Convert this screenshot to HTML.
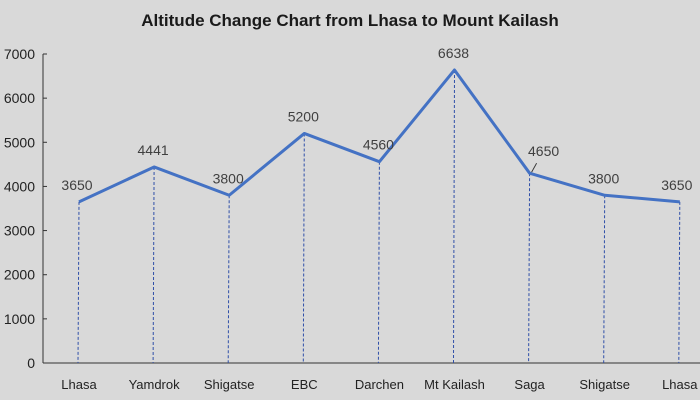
<!DOCTYPE html>
<html><head><meta charset="utf-8"><style>
body{margin:0;background:#d9d9d9;}
svg{display:block;font-family:"Liberation Sans",sans-serif;}
</style></head><body>
<svg width="700" height="400" viewBox="0 0 700 400">
<rect width="700" height="400" fill="#d9d9d9"/>
<text x="350" y="26" text-anchor="middle" font-size="17" font-weight="bold" fill="#1a1a1a">Altitude Change Chart from Lhasa to Mount Kailash</text>
<g id="axes"></g><g id="drops"></g><g id="series"></g><g id="labels"></g>
</svg>
<script>
const categories=["Lhasa","Yamdrok","Shigatse","EBC","Darchen","Mt Kailash","Saga","Shigatse","Lhasa"];
const altitudes=[3650,4441,3800,5200,4560,6638,4300,3800,3650];
const printedLabels=["3650","4441","3800","5200","4560","6638","4650","3800","3650"];
const yTicks=[0,1000,2000,3000,4000,5000,6000,7000];
const NS="http://www.w3.org/2000/svg";
const x0=43,y0=363,yTop=54,yMax=7000;
function xs(i){return 79+i*75.1;}
function ys(v){return y0-(v/yMax)*(y0-yTop);}
function mk(tag,attrs,parent){const e=document.createElementNS(NS,tag);for(const k in attrs)e.setAttribute(k,attrs[k]);document.getElementById(parent).appendChild(e);return e;}
let ax=mk("line",{x1:x0,y1:yTop,x2:x0,y2:y0,stroke:"#333","stroke-width":1},"axes");


let bx=mk("line",{x1:x0,y1:y0,x2:700,y2:y0,stroke:"#333","stroke-width":1},"axes");


yTicks.forEach(t=>{
 let tk=mk("line",{x1:x0,y1:ys(t),x2:x0+4,y2:ys(t),stroke:"#333"},"axes");
 
 
 let tl=mk("text",{x:35,y:ys(t)+5,"text-anchor":"end","font-size":"14",fill:"#222"},"axes");
 tl.textContent=t;
 
 
});
categories.forEach((c,i)=>{
 let t=mk("text",{x:i==8?Math.min(xs(i),680):xs(i),y:389,"text-anchor":"middle","font-size":"13",fill:"#222"},"axes");
 t.textContent=c;
 
 
 let d=mk("line",{x1:xs(i),y1:ys(altitudes[i]),x2:xs(i)-1,y2:y0,stroke:"#2f4fa8","stroke-width":1,"stroke-dasharray":"3,2"},"drops");
 
 
});
let pts=altitudes.map((v,i)=>xs(i)+","+ys(v)).join(" ");
let pl=mk("polyline",{points:pts,fill:"none",stroke:"#4472c4","stroke-width":3,"stroke-linejoin":"round"},"series");


altitudes.forEach((v,i)=>{
 let lx=xs(i)-1,ly=ys(v)-12;
 if(i==6){lx=xs(i)+14;ly=ys(v)-17;
  let ld=mk("line",{x1:xs(i)+2,y1:ys(v)-1,x2:xs(i)+7,y2:ys(v)-10,stroke:"#333"},"labels");
  
  }
 if(i==0)lx=xs(i)-2;
 if(i==8)lx=xs(i)-3;
 let t=mk("text",{x:lx,y:ly,"text-anchor":"middle","font-size":"14",fill:"#404040"},"labels");
 t.textContent=printedLabels[i];
 
 
});
</script>
</body></html>
